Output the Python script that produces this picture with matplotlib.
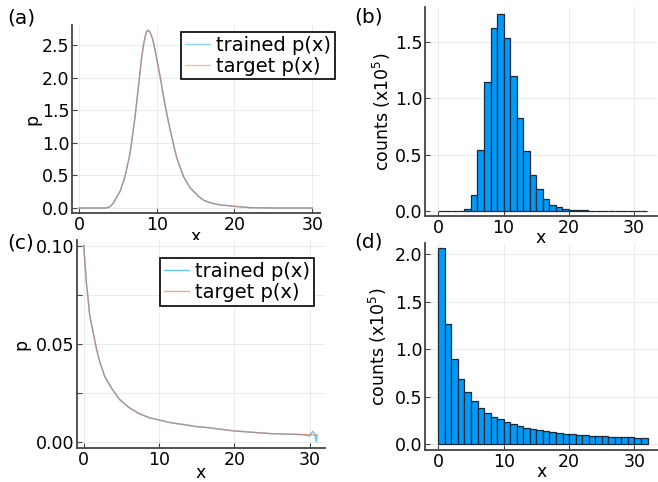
import matplotlib
matplotlib.use("Agg")
import matplotlib.pyplot as plt
import numpy as np

# ---------------- data ----------------
# (a) probability density (trained and target overlap)
xa = [0, 1, 2, 3, 3.5, 4.0, 4.42, 5.28, 5.92, 6.57, 7.21, 7.64, 8.07, 8.29, 8.5, 8.71, 8.9,
      9.14, 9.46, 9.79, 10.43, 11.07, 11.72, 12.57, 13.43, 14.29, 15.36, 16, 17, 18, 20, 22, 25, 28, 30]
ya_target = [0, 0, 0, 0, 0.0, 0.02, 0.077, 0.255, 0.485, 0.84, 1.40, 1.86, 2.32, 2.50, 2.63, 2.71, 2.73,
             2.70, 2.60, 2.42, 2.02, 1.58, 1.20, 0.77, 0.485, 0.31, 0.18, 0.12, 0.077, 0.05, 0.025, 0.005, 0, 0, 0]
ya_trained = list(ya_target)

# (b) histogram counts (x1e5), unit bins 0..32
bins_b = list(range(0, 33))
counts_b = [0, 0, 0, 0, 0.012, 0.137, 0.54, 1.145, 1.625, 1.754, 1.543, 1.2, 0.823, 0.535, 0.318,
            0.192, 0.102, 0.052, 0.031, 0.018, 0.01, 0.006, 0.003, 0.002, 0.001, 0.001, 0, 0, 0, 0, 0, 0]

# (c) probability density
xc = [0, 0.35, 0.58, 0.8, 1.24, 1.68, 2.12, 2.79, 3.68, 4.78, 6.1, 7.43, 8.76, 10, 11.4, 13.2,
      15.2, 16, 20, 25, 29, 29.6, 30, 30.4, 30.7, 30.9, 31]
yc_target = [0.100, 0.0814, 0.073, 0.0645, 0.056, 0.0476, 0.0409, 0.0333, 0.0274, 0.0215, 0.0172,
             0.0142, 0.0122, 0.0111, 0.0098, 0.0088, 0.0076, 0.0074, 0.0055, 0.0041, 0.0037,
             0.0036, 0.0036, 0.0035, 0.0035, 0.0034, 0.0033]
yc_trained = [0.100, 0.0814, 0.073, 0.0645, 0.056, 0.0476, 0.0409, 0.0333, 0.0274, 0.0215, 0.0172,
              0.0142, 0.0122, 0.0111, 0.0098, 0.0088, 0.0076, 0.0074, 0.0055, 0.0041, 0.0036,
              0.0033, 0.0029, 0.0053, 0.0040, 0.0000, 0.0033]

# (d) histogram counts (x1e5), unit bins 0..32
bins_d = list(range(0, 33))
counts_d = [2.067, 1.267, 0.902, 0.688, 0.551, 0.453, 0.386, 0.333, 0.291, 0.263, 0.232, 0.214,
            0.196, 0.175, 0.158, 0.147, 0.137, 0.126, 0.119, 0.112, 0.105, 0.102, 0.095, 0.091,
            0.088, 0.084, 0.081, 0.079, 0.077, 0.074, 0.071, 0.070]

xticks = [0, 10, 20, 30]

# ---------------- style ----------------
W, H = 658, 482
BLUE = "#009AFA"
ORANGE = "#E36F47"
TICK_FS = 12.5
LAB_FS = 12.5
LEG_FS = 14
PAN_FS = 14.5

fig = plt.figure(figsize=(W / 100, H / 100), dpi=100)


def add_ax(l, r, t, b):
    return fig.add_axes([l / W, 1 - b / H, (r - l) / W, (b - t) / H])


def style(ax):
    for s in ("top", "right"):
        ax.spines[s].set_visible(False)
    for s in ("left", "bottom"):
        ax.spines[s].set_color("#444444")
        ax.spines[s].set_linewidth(1.3)
    ax.tick_params(direction="in", length=3.5, width=0.8, color="#444444",
                   labelsize=TICK_FS, pad=2)
    ax.grid(True, color="#e8e8e8", linewidth=0.6)
    ax.set_axisbelow(True)


axa = add_ax(72, 320, 25, 213)
axb = add_ax(425, 657, 7, 216)
axc = add_ax(77, 325, 240, 448)
axd = add_ax(425, 658, 243, 450)

# (a)
style(axa)
axa.plot(xa, ya_trained, color=BLUE, lw=1.0, alpha=0.6, label="trained p(x)")
axa.plot(xa, ya_target, color=ORANGE, lw=1.0, alpha=0.6, label="target p(x)")
axa.set_xlim(-0.9, 31.0)
axa.set_ylim(-0.077, 2.81)
axa.set_xticks(xticks)
axa.set_yticks([0, 0.5, 1.0, 1.5, 2.0, 2.5])
axa.set_yticklabels(["0.0", "0.5", "1.0", "1.5", "2.0", "2.5"])
axa.set_xlabel("x", fontsize=LAB_FS)
axa.set_ylabel("p", fontsize=LAB_FS)
axa.xaxis.set_label_coords(0.5, -0.125)
axa.xaxis.label.set_va("center")
axa.yaxis.set_label_coords(-0.161, 0.5)
axa.yaxis.label.set_va("center")
la = axa.legend(loc="upper right", bbox_to_anchor=(335 / W, 1 - 31.7 / H),
                bbox_transform=fig.transFigure, borderaxespad=0, fontsize=LEG_FS,
                fancybox=False, framealpha=1, edgecolor="black", handlelength=1.3,
                handletextpad=0.3, borderpad=0.2, labelspacing=0.1)
la.get_frame().set_linewidth(1.2)
for h in la.get_lines():
    h.set_alpha(0.45)

# (b)
style(axb)
axb.bar(bins_b[:-1], counts_b, width=1, align="edge", color=BLUE,
        edgecolor="#1b2a3a", linewidth=0.9)
axb.set_xlim(-2.04, 33.5)
axb.set_ylim(-0.047, 1.815)
axb.set_xticks(xticks)
axb.set_yticks([0, 0.5, 1.0, 1.5])
axb.set_yticklabels(["0.0", "0.5", "1.0", "1.5"])
axb.set_xlabel("x", fontsize=LAB_FS)
axb.set_ylabel("counts (x10$^{5}$)", fontsize=LAB_FS)
axb.xaxis.set_label_coords(0.5, -0.105)
axb.xaxis.label.set_va("center")
axb.yaxis.set_label_coords(-0.187, 0.5)
axb.yaxis.label.set_va("center")

# (c)
style(axc)
axc.plot(xc, yc_trained, color=BLUE, lw=1.0, alpha=0.6, label="trained p(x)")
axc.plot(xc, yc_target, color=ORANGE, lw=1.0, alpha=0.6, label="target p(x)")
axc.set_xlim(-0.89, 32.05)
axc.set_ylim(-0.0032, 0.1029)
axc.set_xticks(xticks)
axc.set_yticks([0, 0.025, 0.05, 0.075, 0.10])
axc.set_yticklabels(["0.00", "", "0.05", "", "0.10"])
axc.set_xlabel("x", fontsize=LAB_FS)
axc.set_ylabel("p", fontsize=LAB_FS)
axc.xaxis.set_label_coords(0.5, -0.122)
axc.xaxis.label.set_va("center")
axc.yaxis.set_label_coords(-0.223, 0.5)
axc.yaxis.label.set_va("center")
lc = axc.legend(loc="upper right", bbox_to_anchor=(314 / W, 1 - 258.3 / H),
                bbox_transform=fig.transFigure, borderaxespad=0, fontsize=LEG_FS,
                fancybox=False, framealpha=1, edgecolor="black", handlelength=1.3,
                handletextpad=0.3, borderpad=0.2, labelspacing=0.1)
lc.get_frame().set_linewidth(1.2)

# (d)
style(axd)
axd.bar(bins_d[:-1], counts_d, width=1, align="edge", color=BLUE,
        edgecolor="#1b2a3a", linewidth=0.9)
axd.set_xlim(-2.04, 33.6)
axd.set_ylim(-0.06, 2.118)
axd.set_xticks(xticks)
axd.set_yticks([0, 0.5, 1.0, 1.5, 2.0])
axd.set_yticklabels(["0.0", "0.5", "1.0", "1.5", "2.0"])
axd.set_xlabel("x", fontsize=LAB_FS)
axd.set_ylabel("counts (x10$^{5}$)", fontsize=LAB_FS)
axd.xaxis.set_label_coords(0.5, -0.105)
axd.xaxis.label.set_va("center")
axd.yaxis.set_label_coords(-0.20, 0.5)
axd.yaxis.label.set_va("center")

# panel labels
for txt, px, py in [("(a)", 21, 18), ("(b)", 369, 17), ("(c)", 21, 243), ("(d)", 369, 242)]:
    fig.text(px / W, 1 - py / H, txt, fontsize=PAN_FS, ha="center", va="center")

fig.savefig("out.png", dpi=100)
